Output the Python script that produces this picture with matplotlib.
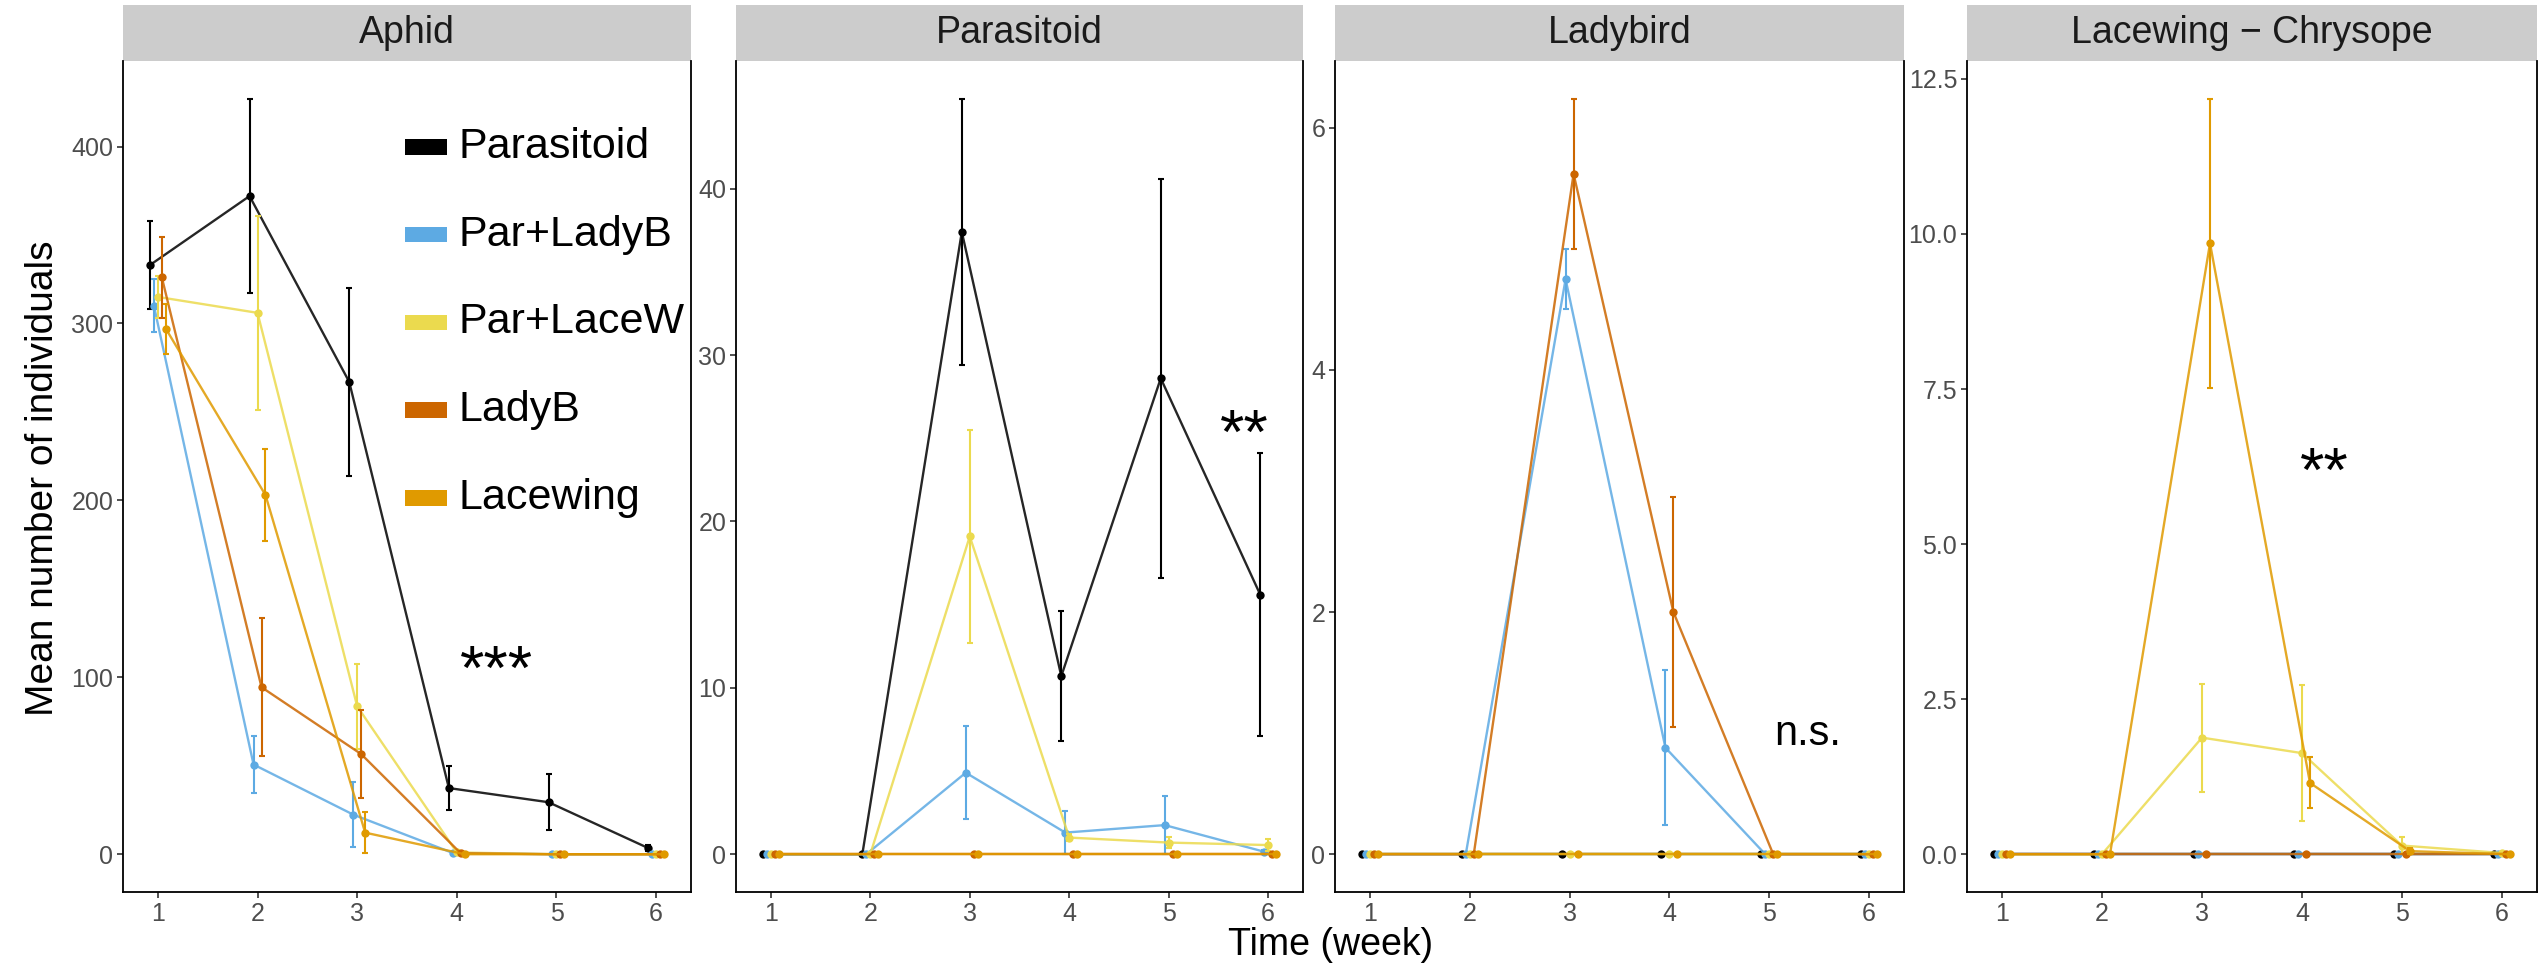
import numpy as np
import matplotlib
matplotlib.use('Agg')
import matplotlib.pyplot as plt
from matplotlib.patches import Rectangle
from matplotlib.ticker import MultipleLocator, FormatStrFormatter

plt.rcParams['font.family'] = ['Liberation Sans', 'DejaVu Sans']

weeks  = [1, 2, 3, 4, 5, 6]
groups = ['Parasitoid', 'Par+LadyB', 'Par+LaceW', 'LadyB', 'Lacewing']
colors = ['#000000', '#5DAAE3', '#EBDA4E', '#CC6600', '#E09A00']
titles = ['Aphid', 'Parasitoid', 'Ladybird', 'Lacewing \u2212 Chrysope']
signif = ['***', '**', 'n.s.', '**']

# mean and standard error, one row per group (same order as groups)
aphid_mean = [[333, 372, 267, 37.4, 29.4, 3.5],
              [310, 50.7, 22.4, 0.7, 0, 0],
              [315, 306, 83.6, 1.0, 0, 0],
              [326, 94.4, 56.6, 0.5, 0, 0],
              [297, 203, 12.2, 0, 0, 0]]
aphid_se   = [[25, 55, 53, 12.5, 15.7, 1.5],
              [15, 16, 18.5, 0.5, 0, 0],
              [12, 55, 24, 0.5, 0, 0],
              [23, 39, 25, 0.3, 0, 0],
              [14, 26, 11.5, 0, 0, 0]]

paras_mean = [[0, 0, 37.4, 10.7, 28.6, 15.6],
              [0, 0, 4.9, 1.3, 1.75, 0.15],
              [0, 0, 19.1, 1.0, 0.7, 0.55],
              [0, 0, 0, 0, 0, 0],
              [0, 0, 0, 0, 0, 0]]
paras_se   = [[0, 0, 8.0, 3.9, 12.0, 8.5],
              [0, 0, 2.8, 1.3, 1.75, 0.1],
              [0, 0, 6.4, 0.2, 0.35, 0.35],
              [0, 0, 0, 0, 0, 0],
              [0, 0, 0, 0, 0, 0]]

ladyb_mean = [[0, 0, 0, 0, 0, 0],
              [0, 0, 4.75, 0.88, 0, 0],
              [0, 0, 0, 0, 0, 0],
              [0, 0, 5.62, 2.0, 0, 0],
              [0, 0, 0, 0, 0, 0]]
ladyb_se   = [[0, 0, 0, 0, 0, 0],
              [0, 0, 0.25, 0.64, 0, 0],
              [0, 0, 0, 0, 0, 0],
              [0, 0, 0.62, 0.95, 0, 0],
              [0, 0, 0, 0, 0, 0]]

lacew_mean = [[0, 0, 0, 0, 0, 0],
              [0, 0, 0, 0, 0, 0],
              [0, 0, 1.88, 1.63, 0.14, 0.02],
              [0, 0, 0, 0, 0, 0],
              [0, 0, 9.85, 1.15, 0.05, 0]]
lacew_se   = [[0, 0, 0, 0, 0, 0],
              [0, 0, 0, 0, 0, 0],
              [0, 0, 0.87, 1.1, 0.13, 0.02],
              [0, 0, 0, 0, 0, 0],
              [0, 0, 2.33, 0.41, 0.05, 0]]

means  = [aphid_mean, paras_mean, ladyb_mean, lacew_mean]
ses    = [aphid_se, paras_se, ladyb_se, lacew_se]
ysteps = [100, 10, 2, 2.5]
# position of significance labels (x in weeks, y in data units)
sig_x  = [4.40, 5.76, 5.39, 4.22]
sig_y  = [114, 26.3, 0.99, 6.45]

W, H = 2539, 969
fig = plt.figure(figsize=(W / 100, H / 100), dpi=100)

# panel pixel boxes: left, right
boxes = [(123, 691), (736, 1303), (1335, 1904), (1967, 2537)]
top, bottom = 61, 892
strip_h = 56

dodge = 0.2
for p, (x0, x1) in enumerate(boxes):
    ax = fig.add_axes([x0 / W, 1 - bottom / H, (x1 - x0) / W, (bottom - top) / H])
    mean = np.array(means[p], dtype=float)
    se   = np.array(ses[p], dtype=float)

    for g, name in enumerate(groups):
        x = np.array(weeks) + (g - 2) * dodge / 5
        ax.plot(x, mean[g], color=colors[g], lw=1.7, alpha=0.85, zorder=2 + g)
        ax.errorbar(x, mean[g], yerr=se[g], fmt='none', ecolor=colors[g],
                    elinewidth=1.5, capsize=2, capthick=1.5, zorder=2 + g)
        ax.plot(x, mean[g], 'o', color=colors[g], ms=6, mec='none', zorder=3 + g)

    lo = (mean - se).min()
    hi = (mean + se).max()
    pad = (hi - lo) * 0.05
    ax.set_ylim(lo - pad, hi + pad)
    ax.set_xlim(0.65, 6.35)
    ax.set_xticks(weeks)
    ax.yaxis.set_major_locator(MultipleLocator(ysteps[p]))
    if p == 3:
        ax.yaxis.set_major_formatter(FormatStrFormatter('%.1f'))

    ax.tick_params(direction='out', length=4, width=1.2, colors='#333333',
                   labelcolor='#4D4D4D', labelsize=18, pad=3)
    for s in ['left', 'bottom', 'right']:
        ax.spines[s].set_linewidth(1.3)
        ax.spines[s].set_color('black')
    ax.spines['top'].set_visible(False)

    # facet strip
    sh = strip_h / (bottom - top)
    ax.add_patch(Rectangle((0, 1), 1, sh, transform=ax.transAxes,
                           facecolor='#CCCCCC', edgecolor='none', clip_on=False))
    ax.text(0.5, 1 + sh / 2, titles[p], transform=ax.transAxes, ha='center',
            va='center', fontsize=27, color='#1A1A1A')

    # significance
    if signif[p] == 'n.s.':
        fs, off = 30, -0.26
    else:
        fs, off = 45, -0.58
    ax.annotate(signif[p], xy=(sig_x[p], sig_y[p]), xytext=(0, off * fs),
                textcoords='offset points', ha='center', va='baseline',
                fontsize=fs, color='black')

    if p == 0:
        # legend drawn inside the first panel, clipped at its border
        for g, name in enumerate(groups):
            yc = 0.8968 - g * 0.1057
            ax.add_patch(Rectangle((0.4965, yc - 0.0095), 0.074, 0.019,
                                   transform=ax.transAxes, facecolor=colors[g],
                                   edgecolor='none', clip_on=True))
            ax.text(0.59, yc, name, transform=ax.transAxes, ha='left',
                    va='center', fontsize=31, color='black', clip_on=True)

fig.text(43 / W, 1 - 478 / H, 'Mean number of individuals', rotation=90,
         ha='center', va='center', fontsize=28)
fig.text(1331 / W, 1 - 955 / H, 'Time (week)', ha='center', va='baseline',
         fontsize=27)

fig.savefig('out.png', dpi=100)
